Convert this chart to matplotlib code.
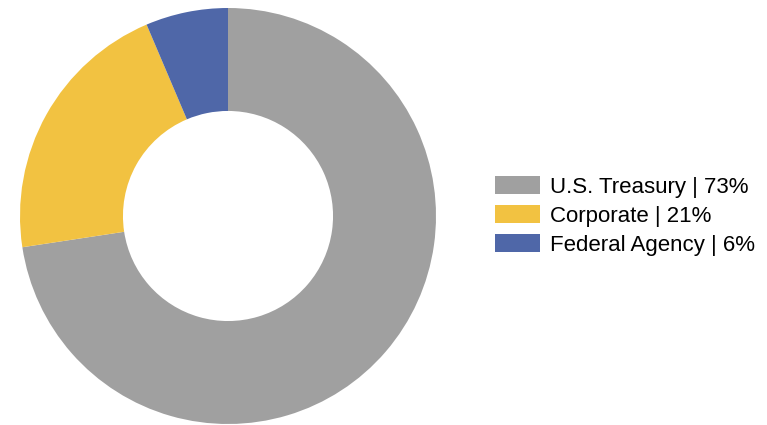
import matplotlib.pyplot as plt
from matplotlib import rcParams

rcParams['font.family'] = ['Liberation Sans', 'DejaVu Sans']

labels = ["U.S. Treasury | 73%", "Corporate | 21%", "Federal Agency | 6%"]
shares = [72.6, 21.0, 6.4]
colors = ["#A0A0A0", "#F2C241", "#4F67A8"]

W, H = 767, 425
fig = plt.figure(figsize=(W / 100, H / 100), dpi=100)

# donut axes: centre (228, 216) px, outer radius 208 px
cx, cy, r = 228, 216, 208
ax = fig.add_axes([(cx - r) / W, (H - cy - r) / H, 2 * r / W, 2 * r / H])
wedges, _ = ax.pie(shares, colors=colors, startangle=90, counterclock=False,
                   radius=1, wedgeprops=dict(width=0.495, edgecolor='none'))
ax.set_xlim(-1, 1)
ax.set_ylim(-1, 1)
ax.set_aspect('equal')
ax.axis('off')

fs = 16
fig.legend(wedges, labels, loc='center left',
           bbox_to_anchor=(495 / W, (H - 216) / H),
           frameon=False, fontsize=fs, borderpad=0, borderaxespad=0,
           handlelength=2.03, handleheight=0.86, handletextpad=0.45,
           labelspacing=0.33)

fig.savefig("out.png", dpi=100)
